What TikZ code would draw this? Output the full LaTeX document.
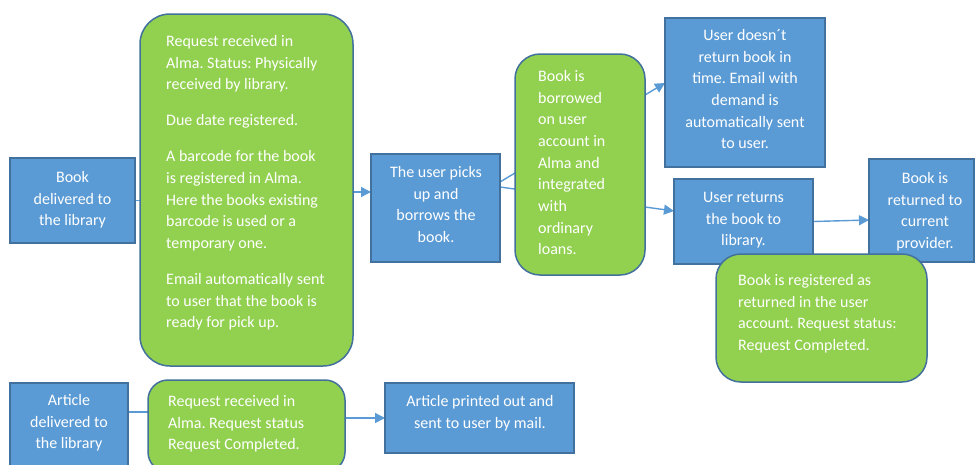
\documentclass[tikz,border=0pt]{standalone}
\usepackage{fontspec}
\setmainfont{Carlito}
\usetikzlibrary{arrows.meta,calc,backgrounds}
\definecolor{boxblue}{HTML}{5B9BD5}
\definecolor{edgeblue}{HTML}{41719C}
\definecolor{boxgreen}{HTML}{92D050}
\begin{document}
\begin{tikzpicture}[x=1pt,y=-1pt,
 bluebox/.style={draw=edgeblue,fill=boxblue,line width=1.5pt,inner sep=0pt,outer sep=0pt,anchor=north west},
 greenbox/.style={draw=edgeblue,fill=boxgreen,line width=1.5pt,inner sep=0pt,outer sep=0pt,anchor=north west},
 txt/.style={text=white,inner sep=0pt,font=\fontsize{16pt}{21.7pt}\selectfont\frenchspacing},
 conn/.style={draw=boxblue,line width=1.4pt},
 arr/.style={conn,-{Triangle[length=10pt,width=10pt]}}]
\useasboundingbox (0,0) rectangle (975,464);
\clip (0,0) rectangle (975,464);

% blue boxes
\node[bluebox,minimum width=125pt,minimum height=85pt] (book) at (10,158) {};
\node[bluebox,minimum width=129pt,minimum height=108pt] (user) at (371,154) {};
\node[bluebox,minimum width=160pt,minimum height=149pt] (noreturn) at (665,18) {};
\node[bluebox,minimum width=139pt,minimum height=85pt] (returns) at (674,179) {};
\node[bluebox,minimum width=105pt,minimum height=103pt] (returned) at (869,159) {};
\node[bluebox,minimum width=118pt,minimum height=90pt] (article) at (10,383) {};
\node[bluebox,minimum width=189pt,minimum height=70pt] (printed) at (385,383) {};

% green boxes
\node[greenbox,rounded corners=30pt,minimum width=213pt,minimum height=352pt] (req) at (140,14) {};
\node[greenbox,rounded corners=25pt,minimum width=130pt,minimum height=221pt] (borrowed) at (515,54) {};
\node[greenbox,rounded corners=25pt,minimum width=211pt,minimum height=128pt] (registered) at (716,254) {};
\node[greenbox,rounded corners=20pt,minimum width=197pt,minimum height=92pt] (areq) at (148,380) {};

% texts
\node[txt,align=center,anchor=north] (book-t) at (72.5,171) {Book\\delivered to\\the library};
\node[txt,align=left,anchor=north west] (req-t) at (166,35) {Request received in\\Alma. Status: Physically\\received by library.\\[14.3pt]Due date registered.\\[14.3pt]A barcode for the book\\is registered in Alma.\\Here the books existing\\barcode is used or a\\temporary one.\\[14.3pt]Email automatically sent\\to user that the book is\\ready for pick up.};
\node[txt,align=center,anchor=north] (user-t) at (436,166) {The user picks\\up and\\borrows the\\book.};
\node[txt,align=left,anchor=north west] (borrowed-t) at (538,70) {Book is\\borrowed\\on user\\account in\\Alma and\\integrated\\with\\ordinary\\loans.};
\node[txt,align=center,anchor=north] (noreturn-t) at (745,29) {User doesn´t\\return book in\\time. Email with\\demand is\\automatically sent\\to user.};
\node[txt,align=center,anchor=north] (returns-t) at (743.5,192) {User returns\\the book to\\library.};
\node[txt,align=center,anchor=north] (returned-t) at (925,172) {Book is\\returned to\\current\\provider.};
\node[txt,align=left,anchor=north west] (registered-t) at (738,274) {Book is registered as\\returned in the user\\account. Request status:\\Request Completed.};
\node[txt,align=center,anchor=north] (article-t) at (69,394) {Article\\delivered to\\the library};
\node[txt,align=left,anchor=north west] (areq-t) at (168,395) {Request received in\\Alma. Request status\\Request Completed.};
\node[txt,align=center,anchor=north] (printed-t) at (480,395) {Article printed out and\\sent to user by mail.};

% connectors (behind the boxes)
\begin{pgfonlayer}{background}
\fill[white] (0,0) rectangle (975,464);
\draw[conn] (book.east) -- (book.east -| req.west);
\draw[arr] ($(req.east)+(0,2)$) -- ($(req.east -| user.west)+(0,2)$);
\draw[arr] ($(user.east)+(0,-26)$) -- ($(noreturn.west)+(0,-9.5)$);
\draw[arr] ($(user.east)+(0,-21)$) -- ($(returns.west)+(0,-10.5)$);
\draw[arr] (returns.east) -- ($(returned.west)+(0,9.5)$);
\draw[conn] ($(article.east)+(0,-16)$) -- ($(article.east -| areq.west)+(0,-16)$);
\draw[arr] (printed.west -| areq.east) -- (printed.west);
\end{pgfonlayer}
\end{tikzpicture}
\end{document}
